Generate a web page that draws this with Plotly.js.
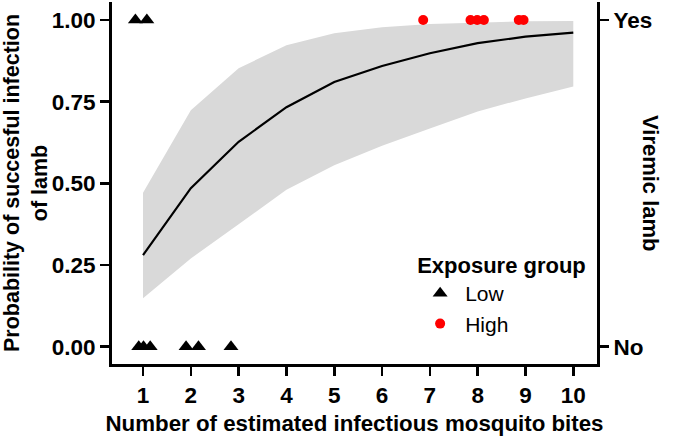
<!DOCTYPE html>
<html>
<head>
<meta charset="utf-8">
<script src="https://cdn.plot.ly/plotly-3.0.1.min.js"></script>
<style>html,body{margin:0;padding:0;background:#fff;}#chart{width:675px;height:436px;}</style>
</head>
<body>
<div id="chart"></div>
<script>
// Fitted curve (probability of infection vs. number of bites)
const bites = [1, 2, 3, 4, 5, 6, 7, 8, 9, 10];
const probFit = [0.28, 0.485, 0.627, 0.733, 0.81, 0.859, 0.898, 0.929, 0.949, 0.961];
const probLower = [0.148, 0.27, 0.375, 0.48, 0.555, 0.615, 0.668, 0.72, 0.76, 0.796];
const probUpper = [0.471, 0.724, 0.852, 0.923, 0.959, 0.978, 0.988, 0.993, 0.996, 0.997];

// Observed lambs
const lowBites = [0.84, 1.08, 0.91, 1.01, 1.15, 1.9, 2.16, 2.84];
const lowViremic = [1, 1, 0, 0, 0, 0, 0, 0];
const highBites = [6.86, 7.85, 7.99, 8.13, 8.86, 8.96];
const highViremic = [1, 1, 1, 1, 1, 1];

const xTicks = [1, 2, 3, 4, 5, 6, 7, 8, 9, 10];
const yTicks = [0, 0.25, 0.5, 0.75, 1];
const yTickText = ["0.00", "0.25", "0.50", "0.75", "1.00"];
const y2Ticks = [0, 1];
const y2TickText = ["No", "Yes"];

const FONT = "Liberation Sans, Arial, sans-serif";

const traces = [
  {x: bites, y: probLower, type: "scatter", mode: "lines", line: {width: 0, color: "rgba(0,0,0,0)"}, showlegend: false, hoverinfo: "skip"},
  {x: bites, y: probUpper, type: "scatter", mode: "lines", fill: "tonexty", fillcolor: "#d9d9d9", line: {width: 0, color: "rgba(0,0,0,0)"}, showlegend: false, hoverinfo: "skip"},
  {x: bites, y: probFit, type: "scatter", mode: "lines", line: {color: "#000", width: 2.2}, showlegend: false},
  {x: lowBites, y: lowViremic, type: "scatter", mode: "markers", name: "Low", marker: {symbol: "triangle-up", size: 13, color: "#000"}},
  {x: highBites, y: highViremic, type: "scatter", mode: "markers", name: "High", marker: {symbol: "circle", size: 10, color: "#ff0000"}},
  {x: [1], y: [0], yaxis: "y2", type: "scatter", mode: "markers", marker: {opacity: 0}, showlegend: false, hoverinfo: "skip"}
];

const axisCommon = {
  showgrid: false, zeroline: false, showline: true, linecolor: "#000", linewidth: 3,
  ticks: "outside", ticklen: 9, tickwidth: 2.5, tickcolor: "#000",
  tickfont: {family: FONT, size: 22.5, color: "#000", weight: "bold"}
};

const layout = {
  width: 675, height: 436,
  margin: {l: 112, r: 78, t: 2, b: 72},
  paper_bgcolor: "#fff", plot_bgcolor: "#fff",
  font: {family: FONT, color: "#000"},
  xaxis: Object.assign({}, axisCommon, {
    range: [0.351, 10.496], tickvals: xTicks,
    title: {text: "Number of estimated infectious mosquito bites", font: {family: FONT, size: 22.3, weight: "bold", color: "#000"}, standoff: 10}
  }),
  yaxis: Object.assign({}, axisCommon, {
    range: [-0.053, 1.055], tickvals: yTicks, ticktext: yTickText,
    title: {text: "Probability of succesful infection<br>of lamb", font: {family: FONT, size: 21.5, weight: "bold", color: "#000"}, standoff: 6}
  }),
  yaxis2: Object.assign({}, axisCommon, {
    overlaying: "y", side: "right", anchor: "x",
    range: [-0.053, 1.055], tickvals: y2Ticks, ticktext: y2TickText
  }),
  legend: {
    x: 0.625, y: 0.33, xanchor: "left", yanchor: "top",
    traceorder: "normal",
    itemwidth: 40,
    bgcolor: "rgba(0,0,0,0)",
    font: {family: FONT, size: 21, color: "#000"},
    title: {text: "Exposure group", side: "top", font: {family: FONT, size: 22, weight: "bold", color: "#000"}},
    tracegroupgap: 0
  },
  annotations: [
    {text: "Viremic lamb", xref: "paper", yref: "paper", x: 1, xanchor: "center", xshift: 54, y: 0.5, yanchor: "middle", textangle: 90, showarrow: false, font: {family: FONT, size: 22, weight: "bold", color: "#000"}}
  ]
};

Plotly.newPlot("chart", traces, layout, {displayModeBar: false, staticPlot: true});
</script>
</body>
</html>
